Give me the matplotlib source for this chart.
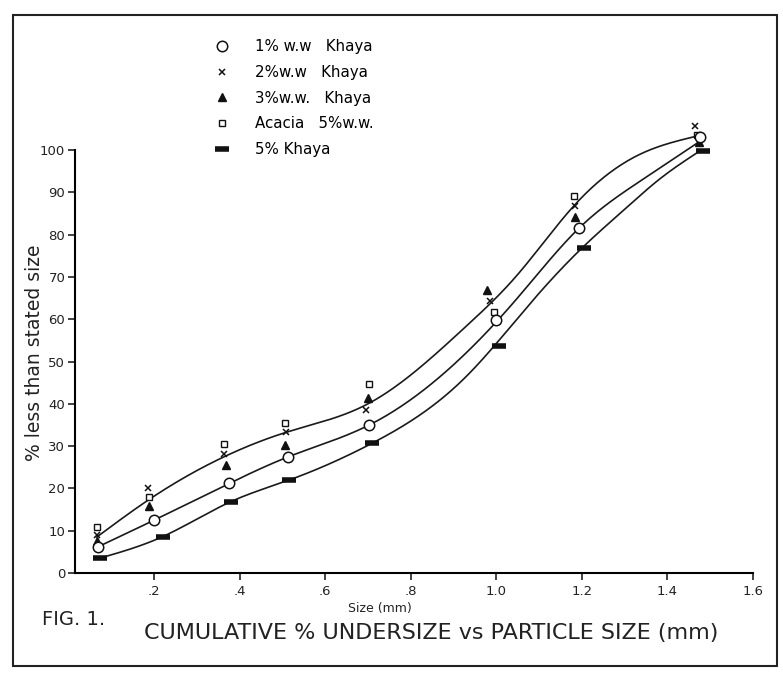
import numpy as np
import matplotlib
matplotlib.use('Agg')
import matplotlib.pyplot as plt
from matplotlib.patches import Rectangle

# measured points (size in mm, cumulative % undersize)
x_1pc = [0.069, 0.200, 0.376, 0.512, 0.703, 1.000, 1.193, 1.477]
y_1pc = [6.2, 12.5, 21.2, 27.4, 35.0, 59.7, 81.5, 103.0]

x_2pc = [0.066, 0.185, 0.364, 0.508, 0.696, 0.985, 1.185, 1.465]
y_2pc = [9.0, 20.0, 28.1, 33.4, 38.5, 64.3, 86.8, 105.7]

x_3pc = [0.066, 0.188, 0.367, 0.507, 0.701, 0.977, 1.185, 1.473]
y_3pc = [7.5, 15.8, 25.5, 30.3, 41.3, 66.8, 84.1, 102.0]

x_acacia = [0.066, 0.188, 0.364, 0.507, 0.703, 0.995, 1.181, 1.470]
y_acacia = [10.8, 18.0, 30.5, 35.5, 44.7, 61.8, 89.1, 103.5]

x_5pc = [0.073, 0.220, 0.380, 0.516, 0.710, 1.006, 1.204, 1.484]
y_5pc = [3.5, 8.6, 16.9, 22.0, 30.7, 53.6, 76.8, 99.7]

# hand drawn smooth curves
upper_x = [0.066, 0.19, 0.364, 0.51, 0.70, 0.928, 1.045, 1.183, 1.34, 1.465]
upper_y = [8.5, 17.5, 27.5, 33.3, 40.0, 58.2, 70.0, 87.0, 99.2, 103.2]

middle_x = [0.069, 0.20, 0.376, 0.512, 0.703, 0.928, 1.045, 1.193, 1.34, 1.469]
middle_y = [6.2, 12.5, 21.2, 27.4, 35.0, 51.9, 64.5, 81.5, 92.9, 101.6]

lower_x = [0.073, 0.22, 0.38, 0.516, 0.71, 0.928, 1.084, 1.204, 1.30, 1.38, 1.473]
lower_y = [3.5, 8.6, 16.9, 22.0, 30.7, 46.3, 64.3, 77.2, 86.0, 93.0, 99.6]

x_ticks = [0.2, 0.4, 0.6, 0.8, 1.0, 1.2, 1.4, 1.6]
x_ticklabels = ['.2', '.4', '.6', '.8', '1.0', '1.2', '1.4', '1.6']
y_ticks = list(range(0, 101, 10))


def natural_spline(x, y, xs):
    x = np.asarray(x, float)
    y = np.asarray(y, float)
    n = len(x)
    h = np.diff(x)
    A = np.zeros((n, n))
    b = np.zeros(n)
    A[0, 0] = 1
    A[-1, -1] = 1
    for i in range(1, n - 1):
        A[i, i - 1] = h[i - 1]
        A[i, i] = 2 * (h[i - 1] + h[i])
        A[i, i + 1] = h[i]
        b[i] = 6 * ((y[i + 1] - y[i]) / h[i] - (y[i] - y[i - 1]) / h[i - 1])
    M = np.linalg.solve(A, b)
    i = np.clip(np.searchsorted(x, xs) - 1, 0, n - 2)
    hi = h[i]
    a = x[i + 1] - xs
    c = xs - x[i]
    return (M[i] * a**3 / (6 * hi) + M[i + 1] * c**3 / (6 * hi)
            + (y[i] / hi - M[i] * hi / 6) * a + (y[i + 1] / hi - M[i + 1] * hi / 6) * c)


plt.rcParams['font.family'] = 'DejaVu Sans'

fig = plt.figure(figsize=(7.83, 6.73), dpi=100)
ax = fig.add_axes([0.0958, 0.1486, 0.8659, 0.6285])

for cx, cy in [(upper_x, upper_y), (middle_x, middle_y), (lower_x, lower_y)]:
    xs = np.linspace(cx[0], cx[-1], 400)
    ax.plot(xs, natural_spline(cx, cy, xs), color='#1a1a1a', lw=1.2, clip_on=False)

ax.plot(x_5pc, y_5pc, ls='none', marker='_', ms=10, mew=4, color='#111111',
        clip_on=False, label='5% Khaya')
ax.plot(x_acacia, y_acacia, ls='none', marker='s', ms=4.5, mfc='white', mec='#111111',
        mew=1.0, clip_on=False, label='Acacia   5%w.w.')
ax.plot(x_3pc, y_3pc, ls='none', marker='^', ms=5.5, color='#111111',
        clip_on=False, label='3%w.w.   Khaya')
ax.plot(x_2pc, y_2pc, ls='none', marker='x', ms=4.5, mew=1.1, color='#111111',
        clip_on=False, label='2%w.w   Khaya')
ax.plot(x_1pc, y_1pc, ls='none', marker='o', ms=7.5, mfc='white', mec='#111111',
        mew=1.1, clip_on=False, label='1% w.w   Khaya')

ax.set_xlim(0.015, 1.6)
ax.set_ylim(0, 100)
ax.set_xticks(x_ticks)
ax.set_xticklabels(x_ticklabels)
ax.set_yticks(y_ticks)
ax.spines['top'].set_visible(False)
ax.spines['right'].set_visible(False)
ax.spines['left'].set_linewidth(1.5)
ax.spines['bottom'].set_linewidth(1.5)
ax.tick_params(axis='both', direction='out', length=5, width=1.2, labelsize=9.5,
               colors='#222222')
ax.tick_params(axis='y', pad=2)
ax.tick_params(axis='x', pad=4)

ax.set_ylabel('% less than stated size', fontsize=13.5, color='#222222')
ax.yaxis.set_label_coords(-0.046, 0.52)
fig.text(0.444, 0.091, 'Size (mm)', fontsize=9, color='#222222', ha='left')

# legend in the reverse order of plotting
handles, labels = ax.get_legend_handles_labels()
fig.legend(handles[::-1], labels[::-1], loc='upper left', bbox_to_anchor=(0.265, 0.951),
           frameon=False, fontsize=10.8, handlelength=1.2, handletextpad=1.6,
           labelspacing=0.72, borderaxespad=0)

fig.text(0.054, 0.072, 'FIG. 1.', fontsize=14, color='#222222')
fig.text(0.551, 0.05, 'CUMULATIVE % UNDERSIZE vs PARTICLE SIZE (mm)', fontsize=16,
         color='#222222', ha='center')

# scanned frame around the figure
fig.patches.append(Rectangle((0.016, 0.011), 0.976, 0.966, transform=fig.transFigure,
                             fill=False, lw=1.5, ec='#222222'))

fig.savefig('out.png', dpi=100)
